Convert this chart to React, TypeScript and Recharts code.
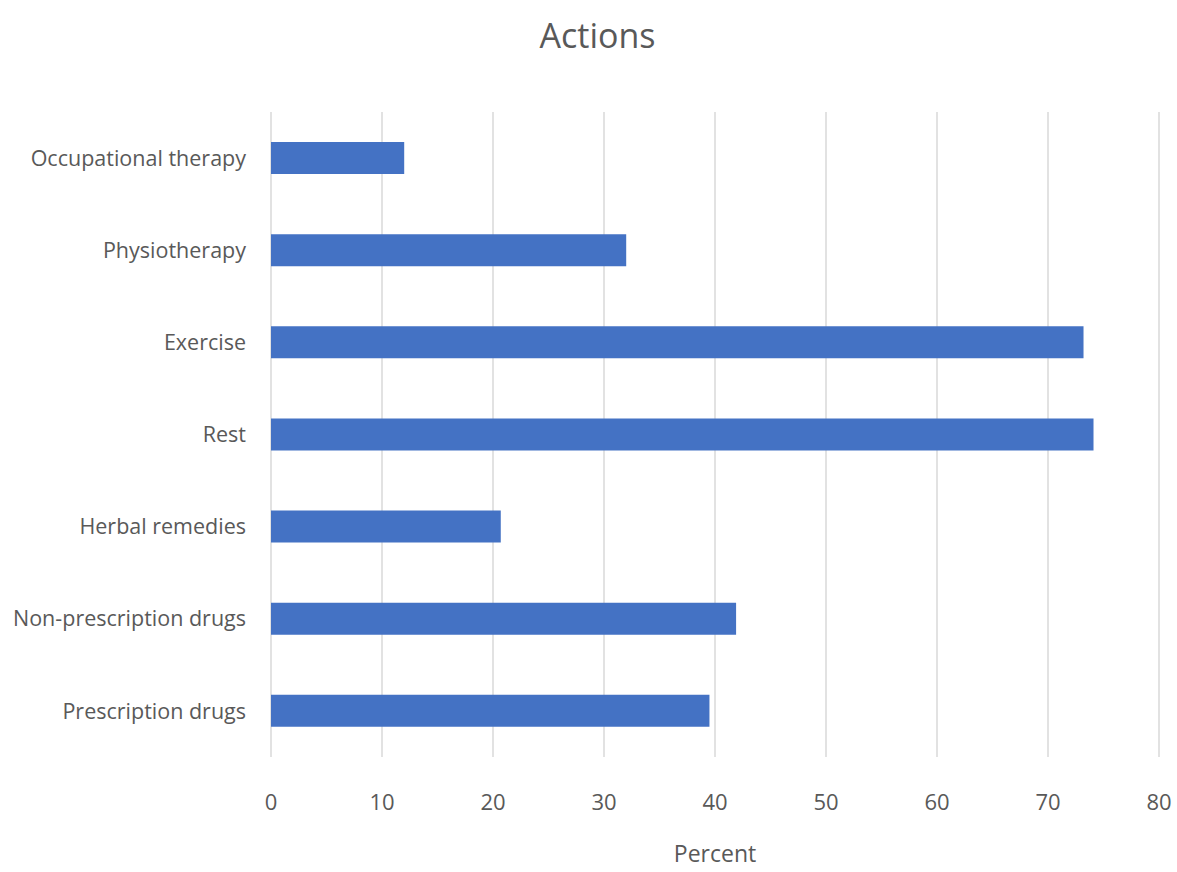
import { BarChart, Bar, XAxis, YAxis, CartesianGrid, Label } from "recharts";

const categories = [
  "Occupational therapy",
  "Physiotherapy",
  "Exercise",
  "Rest",
  "Herbal remedies",
  "Non-prescription drugs",
  "Prescription drugs",
];
const percents = [12, 32, 73.2, 74.1, 20.7, 41.9, 39.5];
const xTicks = [0, 10, 20, 30, 40, 50, 60, 70, 80];

const data = categories.map((name, i) => ({ name, value: percents[i] }));

const FONT = "'Open Sans', sans-serif";
const GREY = "#595959";

export default function App() {
  return (
    <div style={{ position: "absolute", left: 0, top: 0, width: 1177, height: 872, background: "#fff" }}>
      <div
        style={{
          position: "absolute",
          left: 0,
          width: 1177,
          top: 12,
          textAlign: "center",
          paddingLeft: 18,
          boxSizing: "border-box",
          fontFamily: FONT,
          fontSize: 34,
          color: GREY,
        }}
      >
        Actions
      </div>
      <BarChart
        width={1177}
        height={872}
        data={data}
        layout="vertical"
        margin={{ top: 112, right: 18, bottom: 0, left: 0 }}
        barSize={32}
      >
        <CartesianGrid horizontal={false} stroke="#d9d9d9" strokeWidth={1.5} />
        <XAxis
          type="number"
          domain={[0, 80]}
          ticks={xTicks}
          axisLine={false}
          tickLine={false}
          height={115}
          tickMargin={31}
          tick={{ fill: GREY, fontSize: 22, fontFamily: FONT }}
        >
          <Label
            value="Percent"
            position="insideBottom"
            offset={10}
            style={{ fill: GREY, fontSize: 23, fontFamily: FONT }}
          />
        </XAxis>
        <YAxis
          type="category"
          dataKey="name"
          width={271}
          axisLine={false}
          tickLine={false}
          tickMargin={19}
          tick={{ fill: GREY, fontSize: 21.5, fontFamily: FONT }}
        />
        <Bar dataKey="value" fill="#4472C4" isAnimationActive={false} />
      </BarChart>
    </div>
  );
}
